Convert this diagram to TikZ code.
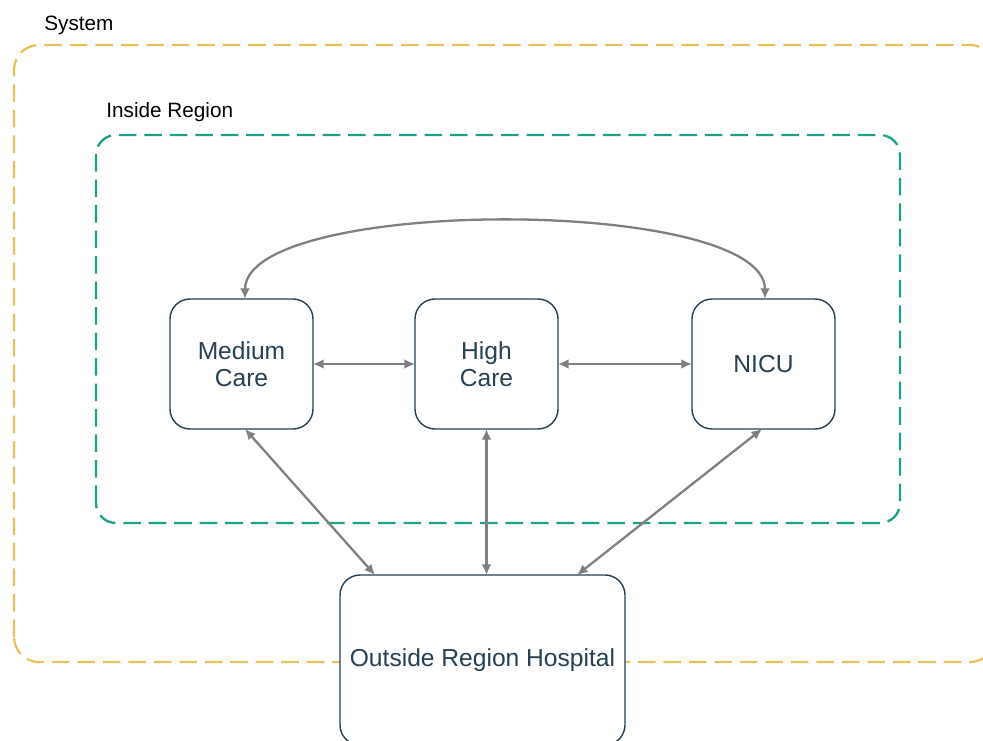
\documentclass[tikz,border=0pt]{standalone}
\usepackage{fontspec}
\setmainfont{Liberation Sans}
\usetikzlibrary{arrows.meta}

\definecolor{sysyellow}{RGB}{233,193,92}
\definecolor{regteal}{RGB}{28,160,138}
\definecolor{boxblue}{RGB}{38,64,84}
\definecolor{flowgray}{RGB}{128,128,128}

\begin{document}
\begin{tikzpicture}[
  ward/.style = {
    shape = rectangle,
    draw = boxblue,
    line width = 0.8pt,
    rounded corners = 0.4cm,
    minimum width = 2.86cm,
    minimum height = 2.6cm,
    align = center,
    text = boxblue,
    font = \fontsize{14}{15.5}\selectfont,
    inner sep = 0pt,
    outer sep = 0pt,
  },
  region/.style = {
    line width = 1.3pt,
    dash pattern = on 10pt off 4.5pt,
  }
]
  \useasboundingbox (0, 0) rectangle (19.66, 14.8);

  \draw[region, sysyellow, rounded corners = 0.5cm]
    (0.28, 1.56) rectangle (19.9, 13.9);
  \node[anchor = west, inner sep = 0pt, font = \fontsize{11.8}{13}\selectfont]
    (syslabel) at (0.88, 14.3) {System};

  \draw[region, regteal, rounded corners = 0.4cm]
    (1.92, 4.34) rectangle (18.0, 12.1);
  \node[anchor = west, inner sep = 0pt, font = \fontsize{11.8}{13}\selectfont]
    (reglabel) at (2.12, 12.56) {Inside Region};

  \node[ward] (med) at (4.83, 7.52) {Medium\\Care};
  \node[ward] (high) at (9.73, 7.52) {High\\Care};
  \node[ward] (nicu) at (15.27, 7.52) {NICU};
  \node[ward, fill = white, minimum width = 5.7cm, minimum height = 3.4cm]
    (out) at (9.65, 1.6) {Outside Region Hospital};

  \begin{scope}[
    every path/.style = {{Latex[length=6pt,width=5.5pt]}-{Latex[length=6pt,width=5.5pt]},
      draw = flowgray, line width = 1.3pt}
  ]
    \draw (med) -- (high);
    \draw (high) -- (nicu);

    \draw ([xshift = 0.07cm]med.north)
      .. controls +(0, 2.06) and +(0, 2.06) .. ([xshift = 0.03cm]nicu.north);

    \draw ([xshift = 0.07cm]med.south) -- ([xshift = -2.15cm]out.north);
    \draw (high.south) -- (high.south |- out.north);
    \draw ([xshift = -0.03cm]nicu.south) -- ([xshift = 1.89cm]out.north);
  \end{scope}
\end{tikzpicture}
\end{document}
